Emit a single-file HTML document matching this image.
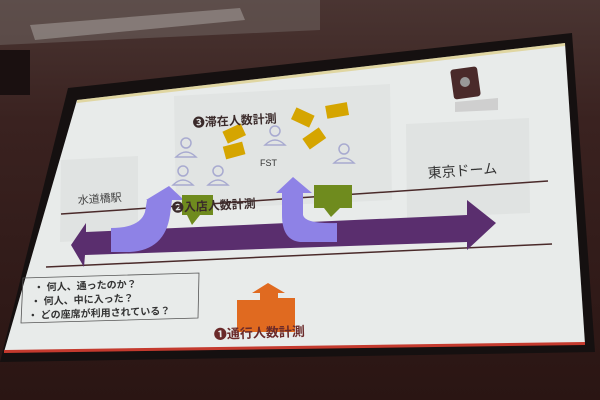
<!DOCTYPE html>
<html><head><meta charset="utf-8"><style>
html,body{margin:0;padding:0;width:600px;height:400px;overflow:hidden;background:#2e1a18}
svg{display:block}
text{font-family:"Liberation Sans","Noto Sans CJK JP",sans-serif}
</style></head><body>
<svg width="600" height="400" viewBox="0 0 600 400">
<defs>
<linearGradient id="bg" x1="0" y1="0" x2="0" y2="1">
<stop offset="0" stop-color="#4a3532"/><stop offset="0.3" stop-color="#3a2220"/><stop offset="1" stop-color="#2a1513"/>
</linearGradient>
</defs>
<rect width="600" height="400" fill="url(#bg)"/>
<polygon points="0,0 320,0 320,30 0,45" fill="#6a5f5c" opacity="0.6"/>
<polygon points="30,25 240,8 245,20 35,40" fill="#a09a96" opacity="0.6"/>
<rect x="0" y="50" width="30" height="45" fill="#1a1010"/>
<polygon points="68,88 572,33 595,352 0,362" fill="#151010"/>
<polygon points="77,100 565,43 585,344 4,352" fill="#e8ebea"/>
<polygon points="4,350 585,342 585,345 4,353" fill="#c43a2e"/>
<polygon points="77,100 565,43 565,46 77,103" fill="#d7c25a" opacity="0.5"/>
<polygon points="174,96 390,84 392,200 176,210" fill="#e1e4e3"/>
<polygon points="61,160 138,156 138,238 60,242" fill="#e0e3e2"/>
<polygon points="406,124 529,118 530,213 407,218" fill="#e0e3e2"/>
<line x1="61" y1="214" x2="548" y2="181" stroke="#4a2a2a" stroke-width="1.5"/>
<line x1="46" y1="267" x2="552" y2="244" stroke="#4a2a2a" stroke-width="1.5"/>
<polygon points="71,245 86,223 86,232 467,215 467,200 496,223 467,250 467,242 85,255 84,267" fill="#5a2e6e"/>
<path d="M111,252 L111,228 Q140,228 145,212 L147,200 L146,200 L169,186 L184,200 L172,200 L170,215 Q165,250 130,252 Z" fill="#8e82e6"/>
<path d="M337,242 L300,242 Q282,240 282,215 L282,193 L276,193 L293,177 L312,193 L303,193 L303,215 Q305,224 337,223 Z" fill="#8e82e6"/>
<rect x="182" y="195" width="31" height="20" fill="#6f8b1e"/>
<polygon points="187,215 200,215 192,225" fill="#6f8b1e"/>
<rect x="314" y="185" width="38" height="23" fill="#6f8b1e"/>
<polygon points="324,208 340,208 331,217" fill="#6f8b1e"/>
<g fill="#d5a500">
<rect x="224" y="127" width="20" height="13" transform="rotate(-25 234 133)"/>
<rect x="224" y="144" width="20" height="13" transform="rotate(-15 234 150)"/>
<rect x="293" y="111" width="20" height="13" transform="rotate(25 303 117)"/>
<rect x="326" y="104" width="22" height="13" transform="rotate(-10 337 110)"/>
<rect x="304" y="132" width="20" height="13" transform="rotate(-35 314 138)"/>
</g>
<g fill="none" stroke="#a8aad0" stroke-width="1.5">
<circle cx="186" cy="143" r="5"/><path d="M176,157 Q186,147 196,157 Z"/>
<circle cx="183" cy="171" r="5"/><path d="M173,185 Q183,175 193,185 Z"/>
<circle cx="218" cy="171" r="5"/><path d="M208,185 Q218,175 228,185 Z"/>
<circle cx="275" cy="131" r="5"/><path d="M265,145 Q275,135 285,145 Z"/>
<circle cx="344" cy="149" r="5"/><path d="M334,163 Q344,153 354,163 Z"/>
</g>
<rect x="452" y="68" width="27" height="30" rx="3" fill="#4a2a2a" transform="rotate(-8 465 83)"/>
<circle cx="465" cy="82" r="5" fill="#999"/>
<polygon points="455,102 498,98 498,110 455,112" fill="#cfcfcf"/>
<text x="193" y="127" font-size="12" fill="#3a2a2a" font-weight="bold" transform="rotate(-3 193 127)">❸滞在人数計測</text>
<text x="260" y="166" font-size="9" fill="#333">FST</text>
<text x="78" y="204" font-size="11" fill="#444" transform="rotate(-4 78 204)">水道橋駅</text>
<text x="428" y="178" font-size="14" fill="#333" transform="rotate(-4 428 178)">東京ドーム</text>
<text x="172" y="212" font-size="12" fill="#3a2a2a" font-weight="bold" transform="rotate(-3 172 212)">❷入店人数計測</text>
<polygon points="237,300 237,332 295,332 295,298 278,298 278,293 285,293 268,283 252,293 260,293 260,300" fill="#e06a20"/>
<text x="214" y="339" font-size="13" fill="#6a2a2a" font-weight="bold" transform="rotate(-2 214 339)">❶通行人数計測</text>
<polygon points="23,278 199,273 198,318 21,323" fill="none" stroke="#555" stroke-width="0.8"/>
<g font-size="10" fill="#333" font-weight="bold">
<text x="34" y="291" transform="rotate(-2 34 291)">・ 何人、通ったのか？</text>
<text x="31" y="305" transform="rotate(-2 31 305)">・ 何人、中に入った？</text>
<text x="28" y="319" transform="rotate(-2 28 319)">・ どの座席が利用されている？</text>
</g>
</svg>
</body></html>
